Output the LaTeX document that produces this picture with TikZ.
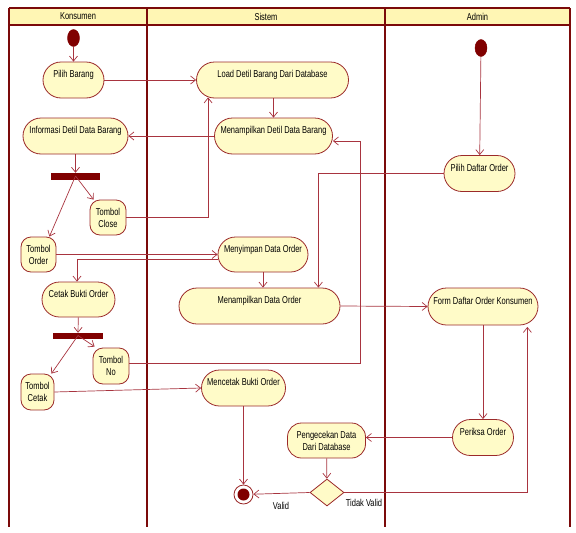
\documentclass[tikz,border=0pt]{standalone}
\usepackage{fontspec}
\setmainfont{Liberation Sans}[FakeStretch=0.75]
\usetikzlibrary{arrows.meta,shapes.geometric,calc}
\definecolor{lanecol}{HTML}{7B0A0A}
\definecolor{hdrfill}{HTML}{FFF6B4}
\definecolor{actfill}{HTML}{FFFBC8}
\definecolor{actline}{HTML}{9B2A2A}
\definecolor{conncol}{HTML}{A8343F}
\definecolor{solidcol}{HTML}{800000}
\tikzset{
  txt/.style={font=\fontsize{10}{12}\selectfont, inner sep=0pt},
  act/.style={draw=actline, fill=actfill, line width=0.8pt, rounded corners=#1,
    inner sep=0pt, align=center, font=\fontsize{10}{12}\selectfont},
  act/.default=18pt,
  initnode/.style={ellipse, fill=solidcol, draw=solidcol, inner sep=0pt,
    minimum width=12pt, minimum height=17pt},
  forkbar/.style={rectangle, fill=solidcol, draw=solidcol, inner sep=0pt},
  decnode/.style={diamond, draw=actline, fill=actfill, line width=0.8pt,
    inner sep=0pt, minimum width=34pt, minimum height=27pt},
  finnode/.style={circle, draw=actline, fill=white, line width=0.8pt,
    inner sep=0pt, minimum size=19pt},
  flow/.style={draw=conncol, line width=0.7pt, -{Straight Barb[length=5pt,width=8pt]}},
  laneline/.style={draw=lanecol, line width=2.2pt},
}
\begin{document}
\begin{tikzpicture}[x=1pt,y=-1pt]
\useasboundingbox (0,0) rectangle (576,533);
% swimlanes
\fill[hdrfill] (9,8) rectangle (570,25);
\draw[laneline] (9,8) -- (570,8);
\draw[laneline] (9,25) -- (570,25);
\draw[laneline] (9,8) -- (9,527);
\draw[laneline] (147,8) -- (147,527);
\draw[laneline] (385,8) -- (385,527);
\draw[laneline] (570,8) -- (570,527);
\node[txt] (hK) at (78,16.5) {Konsumen};
\node[txt] (hS) at (266,16.5) {Sistem};
\node[txt] (hA) at (477.5,16.5) {Admin};

% Konsumen lane
\node[initnode] (sK) at (73.5,38) {};
\node[act, minimum width=61pt, minimum height=36pt] (pb) at (73.5,80) {Pilih Barang\\\mbox{}};
\node[act, minimum width=105pt, minimum height=36pt] (inf) at (75.5,136) {Informasi Detil Data Barang\\\mbox{}};
\node[forkbar, minimum width=48pt, minimum height=6pt] (f1) at (75.5,176) {};
\node[act=10pt, minimum width=36pt, minimum height=35pt] (tclose) at (108,217.5) {Tombol\\Close};
\node[act=10pt, minimum width=35pt, minimum height=35pt] (tord) at (38.5,254.5) {Tombol\\Order};
\node[act=17.5pt, minimum width=73pt, minimum height=35pt] (cbo) at (78.5,299.5) {Cetak Bukti Order\\\mbox{}};
\node[forkbar, minimum width=49pt, minimum height=5pt] (f2) at (78,335.5) {};
\node[act=10pt, minimum width=36pt, minimum height=36pt] (tno) at (111,366) {Tombol\\No};
\node[act=10pt, minimum width=33pt, minimum height=36pt] (tc) at (37.5,392) {Tombol\\Cetak};

% Sistem lane
\node[act, minimum width=152pt, minimum height=36pt] (ld) at (272.5,80) {Load Detil Barang Dari Database\\\mbox{}};
\node[act, minimum width=118pt, minimum height=36pt] (md) at (273.5,136) {Menampilkan Detil Data Barang\\\mbox{}};
\node[act=17.5pt, minimum width=90pt, minimum height=35pt] (ms) at (263,254.5) {Menyimpan Data Order\\\mbox{}};
\node[act, minimum width=161pt, minimum height=36pt] (mdo) at (259.5,306) {Menampilkan Data Order\\\mbox{}};
\node[act, minimum width=84pt, minimum height=36pt] (mc) at (243.5,388) {Mencetak Bukti Order\\\mbox{}};
\node[act=14pt, minimum width=78pt, minimum height=35pt] (pdd) at (326.5,440.5) {Pengecekan Data\\Dari Database};
\node[decnode] (dec) at (327,492.5) {};
\node[finnode] (fin) at (243.5,494.5) {};
\fill[solidcol] (fin.center) circle (6pt);
\node[txt] (lv) at (281,506) {Valid};
\node[txt] (ltv) at (364,503) {Tidak Valid};

% Admin lane
\node[initnode] (sA) at (481,48) {};
\node[act, minimum width=71pt, minimum height=36pt] (pdo) at (479.5,173.5) {Pilih Daftar Order\\\mbox{}};
\node[act=18.5pt, minimum width=110pt, minimum height=37pt] (form) at (483,306.5) {Form Daftar Order Konsumen\\\mbox{}};
\node[act, minimum width=61pt, minimum height=36pt] (po) at (483,437.5) {Periksa Order\\\mbox{}};

% connectors
\draw[flow] (sK) -- (pb);
\draw[flow] (pb) -- (ld);
\draw[flow] (ld.south -| md.north) -- (md.north);
\draw[flow] (md.west) -- (inf.east);
\draw[flow] (inf) -- (f1);
\draw[flow] (f1.center) -- ([xshift=4pt]tclose.north west);
\draw[flow] (f1.center) -- ([xshift=-7pt]tord.north east);
\draw[flow] (tclose.east) -| ([xshift=12pt,yshift=1pt]ld.south west);
\draw[flow] (tord.east) -- (ms.west);
\draw[flow] ([yshift=-5pt]ms.west) -| ([xshift=-1.5pt]cbo.north);
\draw[flow] (ms.south) -- (ms.south |- mdo.north);
\draw[flow] (pdo.west) -| ([xshift=-22pt]mdo.north east);
\draw[flow] (mdo.east) -- (form.west);
\draw[flow] (cbo) -- (f2);
\draw[flow] (f2.center) -- ([xshift=2pt,yshift=1pt]tno.north west);
\draw[flow] (f2.center) -- ([xshift=-3pt]tc.north east);
\coordinate (noTurn) at (360,363);
\draw[flow] ([yshift=3pt]tno.east) -- (noTurn) |- ([yshift=-5pt]md.east);
\draw[flow] (tc.east) -- (mc.west);
\draw[flow] (mc) -- (fin);
\draw[flow] (sA) -- (pdo);
\draw[flow] (form) -- (po);
\draw[flow] (po.west) -- (po.west -| pdd.east);
\draw[flow] (pdd) -- (dec);
\draw[flow] (dec.west) -- (fin);
\draw[flow] (dec.east) -| ([xshift=-11pt,yshift=-1.5pt]form.south east);
\end{tikzpicture}
\end{document}
